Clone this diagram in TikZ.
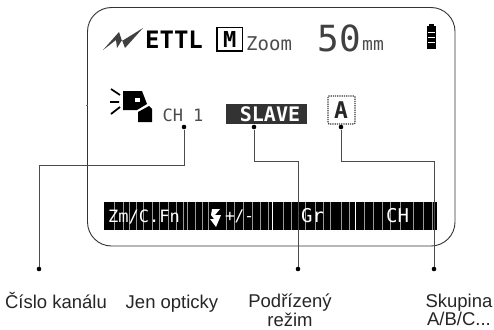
\documentclass[tikz,border=0pt]{standalone}
\usepackage{fontspec}
\setmainfont{Liberation Sans}
\newfontfamily\lcd{DejaVu Sans Mono}
\tikzset{x=1pt,y=-1pt,
  screen/.style={draw=black!80,line width=0.9pt,rounded corners=24pt},
  wire/.style={draw=black!70,line width=0.8pt},
  pin/.style={circle,fill=black,inner sep=0pt,minimum size=4.6pt},
  captxt/.style={font=\fontsize{18.5}{18.5}\selectfont,text=black!85,align=center,inner sep=0pt},
  lcdtxt/.style={text=black!70,inner sep=0pt},
  keytxt/.style={font=\lcd\fontsize{18}{19}\selectfont,text=white,inner sep=0pt},
  stripe/.style={draw=black!40,line width=0.7pt}}
\begin{document}
\begin{tikzpicture}
\useasboundingbox (0,0) rectangle (494,329);
\fill[white] (0,0) rectangle (494,329);
\draw[screen] (87.5,7.5) rectangle (455,246);
\draw[black!60,line width=0.6pt] (86,105) -- (88,105);
% flash zig-zag
\fill[black!75] (103,50) -- (119,32) -- (122,41) -- (143,28) -- (125,48) -- (122,40) -- (117,48) -- (116,40) -- cycle;
\node[font=\lcd\bfseries\fontsize{24}{25}\selectfont,text=black,inner sep=0pt] (ettl) at (174,40) {ETTL};
% M box
\draw[black,line width=1.6pt] (217,27.5) rectangle (242.5,51);
\node[font=\lcd\bfseries\fontsize{22}{23}\selectfont,inner sep=0pt] (mbox) at (229.7,39.5) {M};
\node[lcdtxt,font=\lcd\fontsize{19}{20}\selectfont,anchor=base west] (zoom) at (246,50) {Zoom};
\node[lcdtxt,font=\lcd\fontsize{36}{37}\selectfont,text=black!75,anchor=base] (fifty) at (339,51.5) {50};
\node[lcdtxt,font=\lcd\fontsize{18}{19}\selectfont,anchor=base west] (mm) at (362,51) {mm};
% battery
\fill[black] (426.5,26) rectangle (436,49);
\fill[black] (429,24) rectangle (433.5,26);
\foreach \y in {32,37,42}{\draw[white,line width=0.6pt] (428,\y) -- (435,\y);}
% flash head icon
\fill[black] (123,91) -- (142,91) -- (147,104) -- (137,110) -- (123,110) -- cycle;
\fill[black] (138,122) -- (138,112) -- (149,106) -- (152,109) -- (152,122) -- cycle;
\fill[white] (135,98) rectangle (140,102);
\draw[black,line width=1.8pt] (111,89) -- (120,95) (110,102) -- (119,102) (111,114) -- (120,107);
% texts
\node[lcdtxt,font=\lcd\fontsize{17}{18}\selectfont,anchor=base] (ch) at (183,121) {CH 1};
\fill[black!80] (226,104) rectangle (307,124);
\node[font=\lcd\bfseries\fontsize{20}{21}\selectfont,text=white,anchor=base,inner sep=0pt] (slave) at (270,121) {SLAVE};
\draw[black!80,line width=1.2pt,densely dotted,rounded corners=1pt] (328,96) rectangle (355,124);
\node[font=\lcd\bfseries\fontsize{23}{24}\selectfont,text=black!85,anchor=base,inner sep=0pt] (grp) at (341,118) {A};
% soft key bar
\fill[black] (104,202) rectangle (437,230);
\foreach \x in {114,123,129,136,143,152,159,168,176,183,187,195,202,208,226,234,243,252,260,268,283,291,305,315,323,330,341,349,364,373,382,390,400,413,423,432}{\draw[stripe] (\x,202) -- (\x,230);}
\draw[white,line width=1pt] (272,202) -- (272,230) (355,202) -- (355,230);
\node[keytxt,font=\lcd\fontsize{17}{18}\selectfont,anchor=base] (zm) at (144,222) {Zm/C.Fn};
\node[keytxt,font=\lcd\fontsize{16}{17}\selectfont] (plus) at (239.5,216) {+/-};
\fill[white] (212,209) -- (220,209) -- (215,215) -- (221,215) -- (216,227) -- (210,219) -- (214,219) -- (211,215) -- cycle;
\node[keytxt,font=\lcd\fontsize{19}{20}\selectfont,anchor=base] (gr) at (312.5,222) {Gr};
\node[keytxt,font=\lcd\fontsize{19}{20}\selectfont,anchor=base] (kch) at (397.5,222) {CH};
% connectors
\node[pin] (p1) at (184,127) {};
\node[pin] (p2) at (254,127) {};
\node[pin] (p3) at (341,127) {};
\node[pin] (q1) at (39,269) {};
\node[pin] (q2) at (298,269) {};
\node[pin] (q3) at (434,269) {};
\coordinate (c1) at (184,165);
\coordinate (c2) at (254,161);
\coordinate (c3) at (341,161);
\draw[wire] (p1) -- (c1) -| (q1);
\draw[wire] (p2) -- (c2) -| (q2);
\draw[wire] (p3) -- (c3) -| (q3);
% captions
\node[captxt,anchor=base] (t1) at (56,308) {Číslo kanálu};
\node[captxt,anchor=base] (t2) at (172,308) {Jen opticky};
\node[captxt,anchor=north] (t3) at (290,294) {Podřízený\\režim};
\node[captxt,anchor=north] (t4) at (459,293.5) {Skupina\\A/B/C...};
\end{tikzpicture}
\end{document}
